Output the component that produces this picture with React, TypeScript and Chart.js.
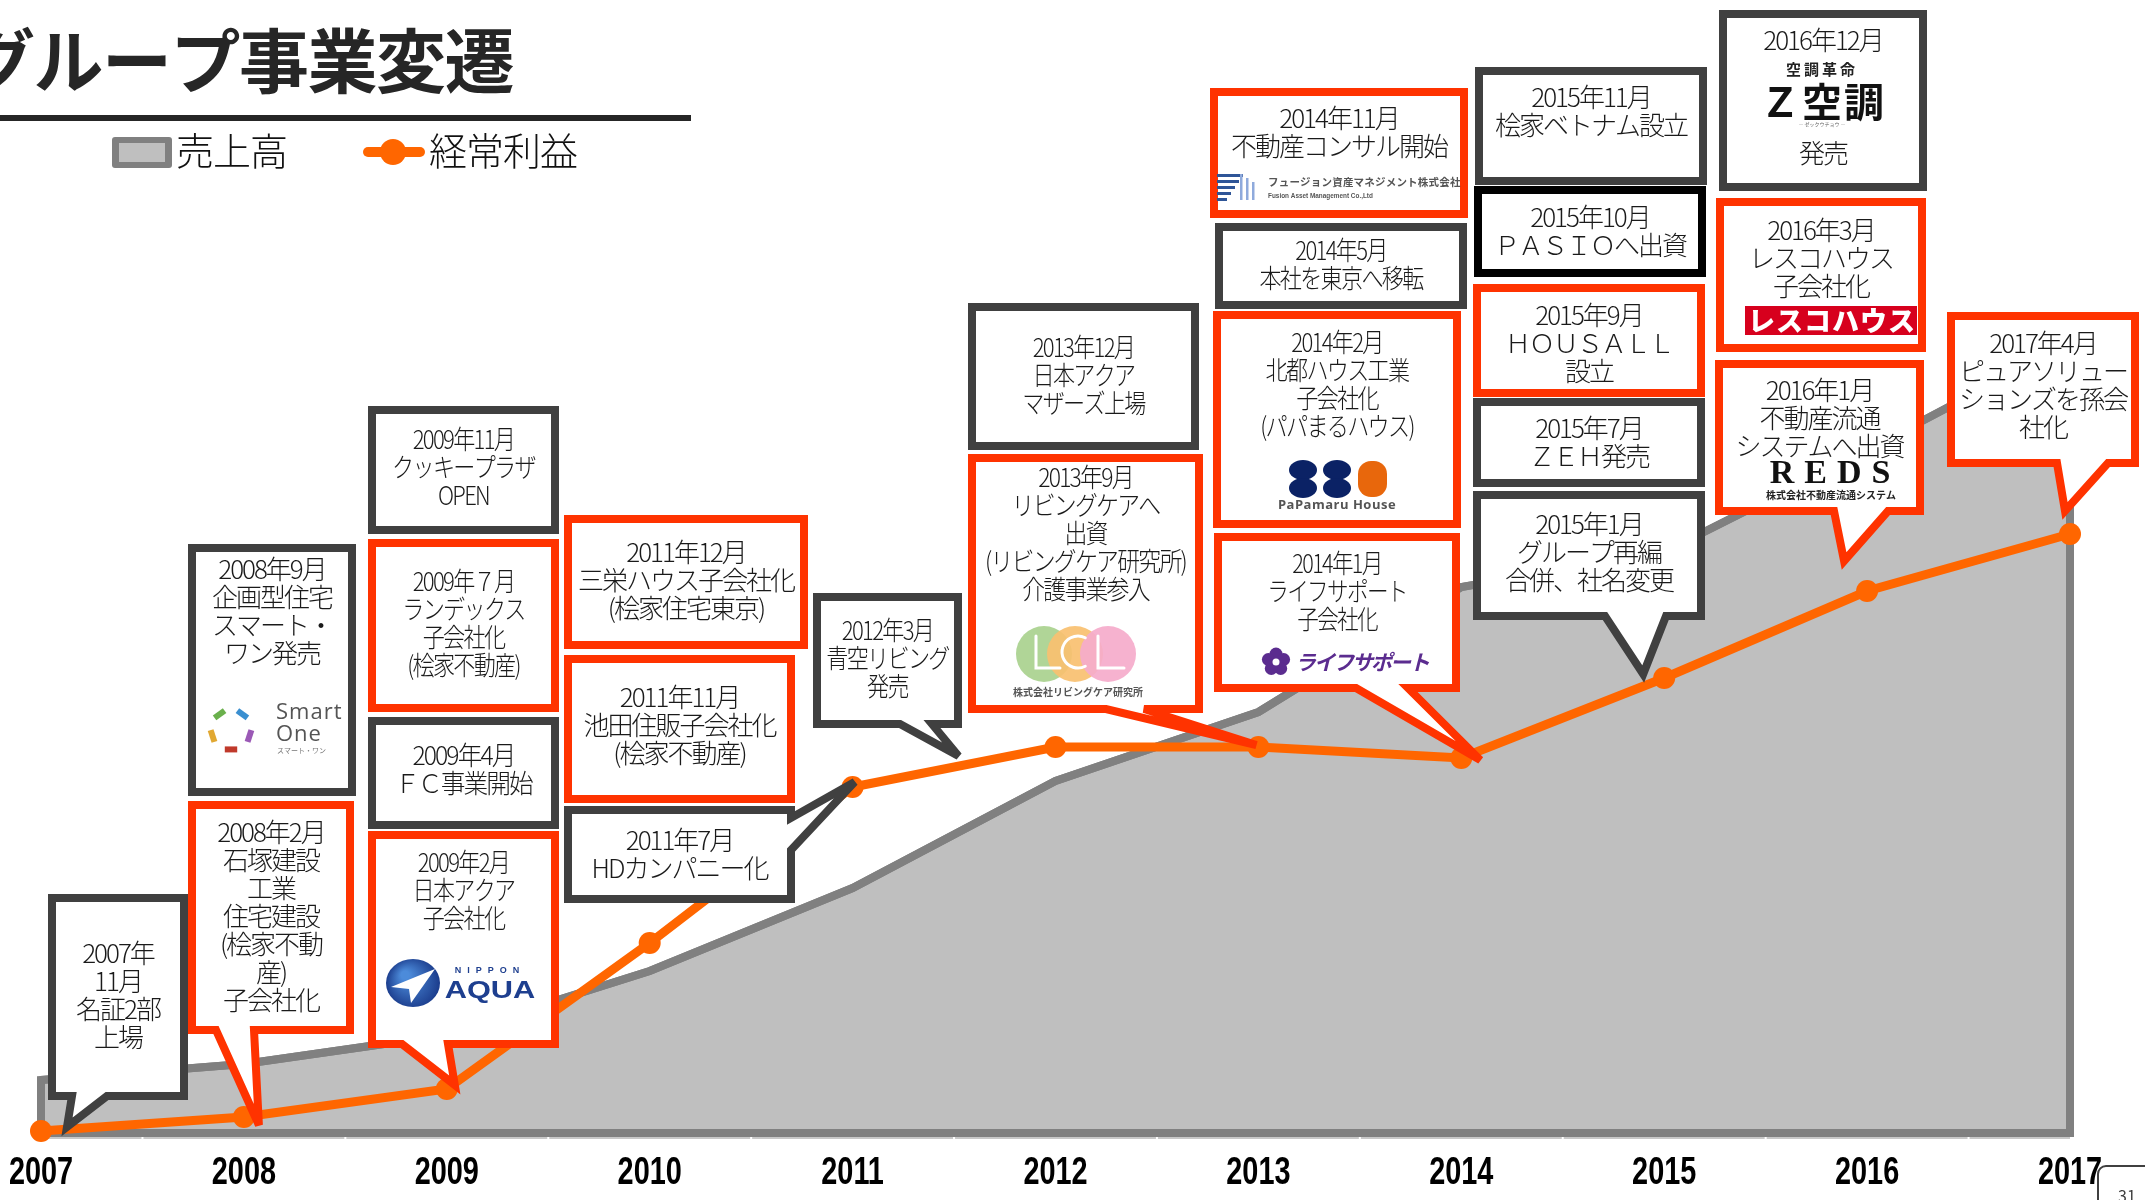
import React, { useEffect, useRef } from 'react';
import { Chart, registerables } from 'chart.js';

Chart.register(...registerables);

// ---------------- data ----------------
const years = ['2007', '2008', '2009', '2010', '2011', '2012', '2013', '2014', '2015', '2016', '2017'];
const salesIndex = [53, 69, 98, 162, 245, 352, 421, 546, 581, 683, 790];
const ordinaryProfitIndex = [2, 16, 44, 190, 346, 386, 386, 375, 455, 542, 599];
const seriesNames = ['売上高', '経常利益'];
const titleText = 'グループ事業変遷';
const pageNumber = '31';

const eventTexts: string[][] = [
  ['2007年', '11月', '名証2部', '上場'],
  ['2008年2月', '石塚建設', '工業', '住宅建設', '(桧家不動', '産)', '子会社化'],
  ['2008年9月', '企画型住宅', 'スマート・', 'ワン発売'],
  ['2009年11月', 'クッキープラザ', 'OPEN'],
  ['2009年７月', 'ランデックス', '子会社化', '(桧家不動産)'],
  ['2009年4月', 'ＦＣ事業開始'],
  ['2009年2月', '日本アクア', '子会社化'],
  ['2011年12月', '三栄ハウス子会社化', '(桧家住宅東京)'],
  ['2011年11月', '池田住販子会社化', '(桧家不動産)'],
  ['2011年7月', 'HDカンパニー化'],
  ['2012年3月', '青空リビング', '発売'],
  ['2013年12月', '日本アクア', 'マザーズ上場'],
  ['2013年9月', 'リビングケアへ', '出資', '(リビングケア研究所)', '介護事業参入'],
  ['2014年11月', '不動産コンサル開始'],
  ['2014年5月', '本社を東京へ移転'],
  ['2014年2月', '北都ハウス工業', '子会社化', '(パパまるハウス)'],
  ['2014年1月', 'ライフサポート', '子会社化'],
  ['2015年11月', '桧家ベトナム設立'],
  ['2015年10月', 'ＰＡＳＩＯへ出資'],
  ['2015年9月', 'ＨＯＵＳＡＬＬ', '設立'],
  ['2015年7月', 'ＺＥＨ発売'],
  ['2015年1月', 'グループ再編', '合併、社名変更'],
  ['2016年12月'],
  ['2016年3月', 'レスコハウス', '子会社化'],
  ['2016年1月', '不動産流通', 'システムへ出資'],
  ['2017年4月', 'ピュアソリュー', 'ションズを孫会', '社化'],
];

const zLogoTexts = ['空調革命', 'Ｚ空調', '― ゼックウチョウ ―', '発売'];
const smartTexts = ['Smart', 'One', 'スマート・ワン'];
const aquaTexts = ['NIPPON', 'AQUA'];
const lclText = '株式会社リビングケア研究所';
const papamaruText = 'PaPamaru House';
const lifeText = 'ライフサポート';
const fusionTexts = ['フュージョン資産マネジメント株式会社', 'Fusion Asset Management Co.,Ltd'];
const rescoText = 'レスコハウス';
const redsTexts = ['REDS', '株式会社不動産流通システム'];

// ---------------- layout (pixels) ----------------
type Tail = { side: 'bottom' | 'right'; a: number; b: number; anchor: number; dx: number; dy: number };
type Box = { x: number; y: number; w: number; h: number; c: 'g' | 'r' | 'k'; ty: number; sx?: number; tail?: Tail; logo?: string };

const eventLayout: Box[] = [
  { x: 48, y: 894, w: 140, h: 206, c: 'g', ty: 953, tail: { side: 'bottom', a: 72, b: 107, anchor: 0, dx: 26, dy: -4 } },
  { x: 188, y: 801, w: 166, h: 233, c: 'r', ty: 832, tail: { side: 'bottom', a: 216, b: 254, anchor: 1, dx: 15, dy: 8 } },
  { x: 188, y: 544, w: 168, h: 252, c: 'g', ty: 569, logo: 'smart' },
  { x: 368, y: 406, w: 191, h: 128, c: 'g', ty: 439, sx: 0.85 },
  { x: 368, y: 539, w: 191, h: 173, c: 'r', ty: 581, sx: 0.85 },
  { x: 368, y: 717, w: 191, h: 112, c: 'g', ty: 755, sx: 0.95 },
  { x: 368, y: 831, w: 191, h: 217, c: 'r', ty: 862, sx: 0.85, logo: 'aqua', tail: { side: 'bottom', a: 402, b: 448, anchor: 2, dx: 8, dy: -4 } },
  { x: 564, y: 515, w: 244, h: 134, c: 'r', ty: 552 },
  { x: 564, y: 655, w: 231, h: 148, c: 'r', ty: 697 },
  { x: 564, y: 806, w: 231, h: 97, c: 'g', ty: 840, tail: { side: 'right', a: 818, b: 850, anchor: 4, dx: 2, dy: -5 } },
  { x: 813, y: 593, w: 149, h: 135, c: 'g', ty: 630, sx: 0.85, tail: { side: 'bottom', a: 900, b: 932, anchor: 5, dx: -97, dy: 9 } },
  { x: 968, y: 303, w: 231, h: 147, c: 'g', ty: 347, sx: 0.85 },
  { x: 968, y: 454, w: 235, h: 259, c: 'r', ty: 477, sx: 0.88, logo: 'lcl', tail: { side: 'bottom', a: 1106, b: 1144, anchor: 6, dx: -2, dy: -2 } },
  { x: 1210, y: 88, w: 258, h: 130, c: 'r', ty: 118, logo: 'fusion' },
  { x: 1215, y: 223, w: 252, h: 86, c: 'g', ty: 250, sx: 0.85 },
  { x: 1213, y: 311, w: 248, h: 217, c: 'r', ty: 342, sx: 0.85, logo: 'papamaru' },
  { x: 1214, y: 533, w: 246, h: 159, c: 'r', ty: 563, sx: 0.83, logo: 'life', tail: { side: 'bottom', a: 1356, b: 1408, anchor: 7, dx: 19, dy: 2 } },
  { x: 1475, y: 67, w: 232, h: 118, c: 'g', ty: 97 },
  { x: 1474, y: 186, w: 232, h: 91, c: 'k', ty: 217 },
  { x: 1473, y: 284, w: 232, h: 113, c: 'r', ty: 315 },
  { x: 1473, y: 398, w: 232, h: 89, c: 'g', ty: 428 },
  { x: 1473, y: 491, w: 232, h: 129, c: 'g', ty: 524, tail: { side: 'bottom', a: 1605, b: 1666, anchor: 8, dx: -21, dy: -4 } },
  { x: 1719, y: 10, w: 208, h: 181, c: 'g', ty: 40, logo: 'zac' },
  { x: 1716, y: 198, w: 210, h: 154, c: 'r', ty: 230, logo: 'resco' },
  { x: 1715, y: 360, w: 209, h: 155, c: 'r', ty: 390, logo: 'reds', tail: { side: 'bottom', a: 1834, b: 1888, anchor: 9, dx: -23, dy: -30 } },
  { x: 1947, y: 312, w: 192, h: 155, c: 'r', ty: 343, tail: { side: 'bottom', a: 2057, b: 2108, anchor: 10, dx: -5, dy: -23 } },
];

const JP = '"Noto Sans CJK JP", "Noto Sans CJK SC", "Noto Sans", sans-serif';
const BORDER: Record<string, string> = { g: '#404040', r: '#FF3300', k: '#000000' };
const BW = 8;

function ls(ctx: CanvasRenderingContext2D, v: string) {
  (ctx as any).letterSpacing = v;
}

function text(ctx: CanvasRenderingContext2D, s: string, x: number, y: number, font: string, color: string, align: CanvasTextAlign = 'center', spacing = '0px') {
  ctx.font = font;
  ctx.fillStyle = color;
  ctx.textAlign = align;
  ctx.textBaseline = 'middle';
  ls(ctx, spacing);
  ctx.fillText(s, x, y);
  ls(ctx, '0px');
}

function drawCallout(ctx: CanvasRenderingContext2D, L: Box, tip: { x: number; y: number } | null) {
  const h2 = BW / 2;
  const x = L.x + h2, y = L.y + h2, w = L.w - BW, h = L.h - BW;
  ctx.beginPath();
  ctx.moveTo(x, y);
  ctx.lineTo(x + w, y);
  if (L.tail && tip && L.tail.side === 'right') {
    ctx.lineTo(x + w, L.tail.a);
    ctx.lineTo(tip.x, tip.y);
    ctx.lineTo(x + w, L.tail.b);
  }
  ctx.lineTo(x + w, y + h);
  if (L.tail && tip && L.tail.side === 'bottom') {
    ctx.lineTo(L.tail.b, y + h);
    ctx.lineTo(tip.x, tip.y);
    ctx.lineTo(L.tail.a, y + h);
  }
  ctx.lineTo(x, y + h);
  ctx.closePath();
  ctx.fillStyle = '#ffffff';
  ctx.fill();
  ctx.lineWidth = BW;
  ctx.strokeStyle = BORDER[L.c];
  ctx.lineJoin = 'miter';
  ctx.miterLimit = 3;
  ctx.stroke();
}

function drawLines(ctx: CanvasRenderingContext2D, lines: string[], L: Box) {
  const sx = L.sx ?? 1;
  const maxW = L.w - 2 * BW - 6;
  ctx.font = `300 26px ${JP}`;
  ctx.fillStyle = '#1a1a1a';
  ctx.textAlign = 'center';
  ctx.textBaseline = 'middle';
  ls(ctx, '-2px');
  lines.forEach((s, i) => {
    ctx.save();
    ctx.translate(L.x + L.w / 2, L.ty + i * 28);
    ctx.scale(sx, 1);
    ctx.fillText(s, 0, 0, maxW / sx);
    ctx.restore();
  });
  ls(ctx, '0px');
}

const logos: Record<string, (ctx: CanvasRenderingContext2D, bx: number, by: number) => void> = {
  smart: (ctx, bx, by) => {
    const cx = bx + 43, cy = by + 186, r = 24;
    const cols = ['#3A8FD0', '#9B59B6', '#C0392B', '#E1A832', '#6AB04C'];
    const pts = [0, 1, 2, 3, 4].map((k) => {
      const a = -Math.PI / 2 + (k * 2 * Math.PI) / 5;
      return [cx + r * Math.cos(a), cy + r * Math.sin(a)];
    });
    ctx.lineWidth = 6;
    ctx.lineCap = 'butt';
    for (let k = 0; k < 5; k++) {
      const p = pts[k], q = pts[(k + 1) % 5];
      ctx.beginPath();
      ctx.moveTo(p[0] + (q[0] - p[0]) * 0.28, p[1] + (q[1] - p[1]) * 0.28);
      ctx.lineTo(p[0] + (q[0] - p[0]) * 0.72, p[1] + (q[1] - p[1]) * 0.72);
      ctx.strokeStyle = cols[k];
      ctx.stroke();
    }
    text(ctx, smartTexts[0], bx + 88, by + 169, `22px "Open Sans", sans-serif`, '#555', 'left', '1px');
    text(ctx, smartTexts[1], bx + 88, by + 191, `22px "Open Sans", sans-serif`, '#555', 'left', '1px');
    text(ctx, smartTexts[2], bx + 89, by + 206, `7px ${JP}`, '#777', 'left');
  },
  aqua: (ctx, bx, by) => {
    const cx = bx + 45, cy = by + 152;
    const g = ctx.createRadialGradient(cx - 8, cy - 8, 4, cx, cy, 27);
    g.addColorStop(0, '#4C8BDA');
    g.addColorStop(1, '#1B3C8C');
    ctx.beginPath();
    ctx.ellipse(cx, cy, 27, 24, 0, 0, Math.PI * 2);
    ctx.fillStyle = g;
    ctx.fill();
    ctx.beginPath();
    ctx.moveTo(cx - 22, cy + 4);
    ctx.lineTo(cx + 22, cy - 14);
    ctx.lineTo(cx - 2, cy + 20);
    ctx.lineTo(cx - 4, cy + 6);
    ctx.closePath();
    ctx.fillStyle = '#ffffff';
    ctx.fill();
    text(ctx, aquaTexts[0], bx + 122, by + 140, `bold 9px "Liberation Sans", sans-serif`, '#1E3F8F', 'center', '6px');
    ctx.save();
    ctx.translate(bx + 122, by + 160);
    ctx.scale(1.1, 0.85);
    text(ctx, aquaTexts[1], 0, 0, `bold 28px "Liberation Sans", sans-serif`, '#1E3F8F', 'center');
    ctx.restore();
  },
  lcl: (ctx, bx, by) => {
    const cy = by + 200;
    const circles: [number, string][] = [[bx + 76, '#A9D18E'], [bx + 107, '#F8C070'], [bx + 140, '#F5ABCB']];
    ctx.save();
    ctx.globalAlpha = 0.92;
    circles.forEach(([cx, col]) => {
      ctx.beginPath();
      ctx.arc(cx, cy, 28, 0, Math.PI * 2);
      ctx.fillStyle = col;
      ctx.fill();
    });
    ctx.restore();
    ctx.strokeStyle = '#ffffff';
    ctx.lineWidth = 3;
    ctx.lineCap = 'round';
    ctx.beginPath();
    ctx.moveTo(bx + 68, cy - 18); ctx.lineTo(bx + 68, cy + 14); ctx.lineTo(bx + 92, cy + 14);
    ctx.stroke();
    ctx.beginPath();
    ctx.arc(bx + 110, cy - 2, 16, Math.PI * 0.35, Math.PI * 1.65, false);
    ctx.stroke();
    ctx.beginPath();
    ctx.moveTo(bx + 130, cy - 18); ctx.lineTo(bx + 130, cy + 14); ctx.lineTo(bx + 156, cy + 14);
    ctx.stroke();
    ctx.lineCap = 'butt';
    text(ctx, lclText, bx + 110, by + 238, `bold 10px ${JP}`, '#555');
  },
  fusion: (ctx, bx, by) => {
    const lens = [26, 22, 18, 14, 10];
    ctx.fillStyle = '#2F5597';
    lens.forEach((l, i) => ctx.fillRect(bx + 7, by + 86 + i * 6, l, 3));
    ctx.fillStyle = '#8FAADC';
    [30, 36, 42].forEach((x, i) => ctx.fillRect(bx + x, by + 86 + i * 4, 2.5, 26 - i * 4));
    text(ctx, fusionTexts[0], bx + 58, by + 94, `bold 10.5px ${JP}`, '#555', 'left', '0.2px');
    ctx.save();
    ctx.translate(bx + 58, by + 108);
    ctx.scale(0.8, 1);
    text(ctx, fusionTexts[1], 0, 0, `bold 8px "Liberation Sans", sans-serif`, '#555', 'left');
    ctx.restore();
  },
  papamaru: (ctx, bx, by) => {
    const y = by + 168;
    [bx + 90, bx + 124].forEach((x) => {
      ctx.fillStyle = '#0B2265';
      ctx.beginPath(); ctx.ellipse(x, y - 9, 14, 10, 0, 0, Math.PI * 2); ctx.fill();
      ctx.beginPath(); ctx.ellipse(x, y + 9, 14, 10, 0, 0, Math.PI * 2); ctx.fill();
    });
    ctx.fillStyle = '#E8670C';
    ctx.beginPath();
    (ctx as any).roundRect(bx + 145, y - 18, 29, 36, 13);
    ctx.fill();
    text(ctx, papamaruText, bx + 124, by + 194, `bold 13px "Open Sans", sans-serif`, '#555', 'center', '0.5px');
  },
  life: (ctx, bx, by) => {
    const cx = bx + 62, cy = by + 129;
    ctx.fillStyle = '#5B2C8F';
    for (let k = 0; k < 5; k++) {
      const a = -Math.PI / 2 + (k * 2 * Math.PI) / 5;
      ctx.beginPath();
      ctx.arc(cx + 8 * Math.cos(a), cy + 8 * Math.sin(a), 6.5, 0, Math.PI * 2);
      ctx.fill();
    }
    ctx.fillStyle = '#ffffff';
    ctx.beginPath(); ctx.arc(cx, cy, 3.5, 0, Math.PI * 2); ctx.fill();
    ctx.save();
    ctx.translate(bx + 83, cy);
    ctx.transform(1, 0, -0.25, 1, 0, 0);
    text(ctx, lifeText, 0, 0, `bold 21px ${JP}`, '#5B2C8F', 'left', '-2px');
    ctx.restore();
  },
  zac: (ctx, bx, by) => {
    text(ctx, zLogoTexts[0], bx + 103, by + 59, `bold 15px ${JP}`, '#222', 'center', '3px');
    text(ctx, zLogoTexts[1], bx + 104, by + 92, `bold 40px ${JP}`, '#111', 'center', '2px');
    text(ctx, zLogoTexts[2], bx + 103, by + 114, `5px ${JP}`, '#666', 'center');
    text(ctx, zLogoTexts[3], bx + 104, by + 143, `300 26px ${JP}`, '#1a1a1a', 'center', '-2px');
  },
  resco: (ctx, bx, by) => {
    ctx.fillStyle = '#D7001D';
    ctx.fillRect(bx + 29, by + 108, 172, 29);
    text(ctx, rescoText, bx + 116, by + 123, `900 27px ${JP}`, '#ffffff', 'center', '1px');
  },
  reds: (ctx, bx, by) => {
    text(ctx, redsTexts[0], bx + 120, by + 114, `bold 34px "Liberation Serif", "DejaVu Serif", serif`, '#111', 'center', '10px');
    text(ctx, redsTexts[1], bx + 116, by + 135, `bold 10px ${JP}`, '#222', 'center');
  },
};

const backgroundPlugin = {
  id: 'bgWhite',
  beforeDraw(chart: any) {
    const ctx = chart.ctx as CanvasRenderingContext2D;
    ctx.save();
    ctx.fillStyle = '#ffffff';
    ctx.fillRect(0, 0, chart.width, chart.height);
    ctx.restore();
  },
};

const axisLinePlugin = {
  id: 'axisLine',
  beforeDatasetsDraw(chart: any) {
    const ctx = chart.ctx as CanvasRenderingContext2D;
    const xs = chart.scales.x;
    const y = chart.chartArea.bottom + 5;
    ctx.save();
    ctx.strokeStyle = '#C8C8C8';
    ctx.lineWidth = 2;
    const n = years.length;
    for (let i = 0; i < n - 1; i++) {
      const a = i === 0 ? xs.getPixelForValue(0) : (xs.getPixelForValue(i - 1) + xs.getPixelForValue(i)) / 2 + 1;
      const b = (xs.getPixelForValue(i) + xs.getPixelForValue(i + 1)) / 2 - 1;
      ctx.beginPath(); ctx.moveTo(a, y); ctx.lineTo(b, y); ctx.stroke();
    }
    const a2 = (xs.getPixelForValue(n - 2) + xs.getPixelForValue(n - 1)) / 2 + 1;
    ctx.beginPath(); ctx.moveTo(a2, y); ctx.lineTo(xs.getPixelForValue(n - 1), y); ctx.stroke();
    ctx.restore();
  },
};

const areaEdgePlugin = {
  id: 'areaEdge',
  afterDatasetDraw(chart: any, args: any) {
    if (args.index !== 0) return;
    const ctx = chart.ctx as CanvasRenderingContext2D;
    const pts = chart.getDatasetMeta(0).data;
    const base = chart.scales.y.getPixelForValue(0);
    ctx.save();
    ctx.beginPath();
    ctx.moveTo(pts[0].x, base);
    pts.forEach((p: any) => ctx.lineTo(p.x, p.y));
    ctx.lineTo(pts[pts.length - 1].x, base);
    ctx.closePath();
    ctx.lineWidth = 8;
    ctx.strokeStyle = '#808080';
    ctx.lineJoin = 'miter';
    ctx.stroke();
    ctx.restore();
  },
};

const tickLabelPlugin = {
  id: 'yearLabels',
  afterDraw(chart: any) {
    const ctx = chart.ctx as CanvasRenderingContext2D;
    const xs = chart.scales.x;
    const y = chart.chartArea.bottom + 40;
    ctx.save();
    years.forEach((_, i) => {
      const x = xs.getPixelForValue(i);
      ctx.save();
      ctx.translate(x, y);
      ctx.scale(0.76, 1.04);
      text(ctx, String(xs.getLabelForValue(i)), 0, 0, `bold 38px "Liberation Sans", Arial, sans-serif`, '#000000', 'center');
      ctx.restore();
    });
    ctx.restore();
  },
};

const decorationPlugin = {
  id: 'decorations',
  afterDraw(chart: any) {
    const ctx = chart.ctx as CanvasRenderingContext2D;
    ctx.save();
    // title
    text(ctx, titleText, -35, 61, `bold 70px ${JP}`, '#262626', 'left', '-1.5px');
    ctx.fillStyle = '#262626';
    ctx.fillRect(0, 115, 691, 6);
    // legend
    ctx.fillStyle = '#808080';
    ctx.beginPath();
    (ctx as any).roundRect(112, 137, 60, 31, 3);
    ctx.fill();
    ctx.fillStyle = '#BFBFBF';
    ctx.fillRect(119, 143, 46, 19);
    text(ctx, seriesNames[0], 176, 151, `300 38px ${JP}`, '#111', 'left', '-1px');
    ctx.strokeStyle = '#FF6600';
    ctx.lineWidth = 10;
    ctx.lineCap = 'round';
    ctx.beginPath(); ctx.moveTo(368, 152); ctx.lineTo(420, 152); ctx.stroke();
    ctx.fillStyle = '#FF6600';
    ctx.beginPath(); ctx.arc(393, 152, 13, 0, Math.PI * 2); ctx.fill();
    ctx.lineCap = 'butt';
    text(ctx, seriesNames[1], 429, 151, `300 38px ${JP}`, '#111', 'left', '-1px');

    // annotation callouts
    const meta = chart.getDatasetMeta(1);
    eventLayout.forEach((L, i) => {
      let tip: { x: number; y: number } | null = null;
      if (L.tail) {
        const p = meta.data[L.tail.anchor];
        tip = { x: p.x + L.tail.dx, y: p.y + L.tail.dy };
      }
      drawCallout(ctx, L, tip);
      drawLines(ctx, eventTexts[i], L);
      if (L.logo && logos[L.logo]) logos[L.logo](ctx, L.x, L.y);
    });

    // page number tab
    ctx.strokeStyle = '#404040';
    ctx.lineWidth = 2;
    ctx.beginPath();
    (ctx as any).roundRect(2098, 1166, 80, 60, 8);
    ctx.stroke();
    text(ctx, pageNumber, 2118, 1196, `16px ${JP}`, '#404040', 'left');
    ctx.restore();
  },
};

export default function App() {
  const ref = useRef<HTMLCanvasElement>(null);
  useEffect(() => {
    document.body.style.margin = '0';
    const canvas = ref.current;
    if (!canvas) return;
    const chart = new Chart(canvas, {
      type: 'line',
      data: {
        labels: years,
        datasets: [
          {
            label: seriesNames[0],
            data: salesIndex,
            order: 2,
            fill: 'origin',
            backgroundColor: '#BFBFBF',
            borderColor: '#808080',
            borderWidth: 8,
            pointRadius: 0,
            pointHoverRadius: 0,
            tension: 0,
            clip: false,
          } as any,
          {
            label: seriesNames[1],
            data: ordinaryProfitIndex,
            order: 1,
            fill: false,
            borderColor: '#FF6600',
            borderWidth: 9,
            pointRadius: 11,
            pointHoverRadius: 11,
            pointBackgroundColor: '#FF6600',
            pointBorderColor: '#FF6600',
            pointBorderWidth: 0,
            tension: 0,
            clip: false,
          } as any,
        ],
      },
      options: {
        responsive: false,
        maintainAspectRatio: false,
        animation: false,
        devicePixelRatio: 1,
        events: [],
        layout: { padding: { top: 133, left: 41, right: 75, bottom: 0 } },
        scales: {
          x: {
            grid: { display: false, drawTicks: false },
            border: { display: false },
            ticks: { display: false, autoSkip: false, maxRotation: 0 },
            afterFit: (s: any) => {
              s.height = 67;
              s.paddingLeft = 0;
              s.paddingRight = 0;
            },
          },
          y: { display: false, min: 0, max: 1000 },
        },
        plugins: { legend: { display: false }, tooltip: { enabled: false } },
      } as any,
      plugins: [backgroundPlugin, axisLinePlugin, areaEdgePlugin, tickLabelPlugin, decorationPlugin],
    });
    return () => chart.destroy();
  }, []);
  return (
    <div style={{ position: 'fixed', left: 0, top: 0, width: 2145, height: 1200, background: '#fff' }}>
      <canvas ref={ref} width={2145} height={1200} style={{ display: 'block', width: 2145, height: 1200 }} />
    </div>
  );
}
